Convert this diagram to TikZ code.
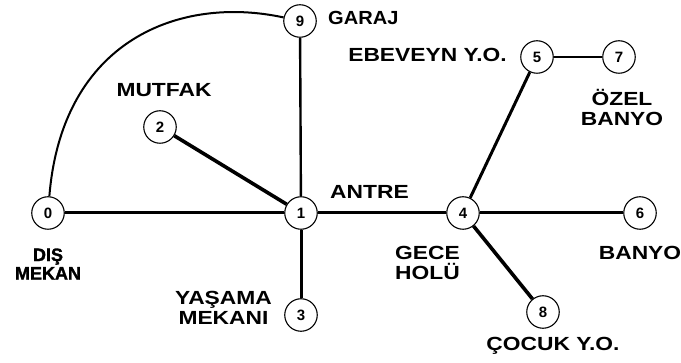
\documentclass[tikz,border=0pt]{standalone}
\usepackage{fontspec}
\setmainfont{Liberation Sans}
\newfontfamily\lblfont{Liberation Sans}[FakeStretch=1.2]
\newfontfamily\heavyfont{Liberation Sans}[FakeBold=1.6]
\newfontfamily\numfont{Liberation Sans}
\tikzset{
  room/.style={circle, draw, line width=1.1pt, minimum size=32.5pt, inner sep=0pt,
    fill=white, font=\numfont\bfseries\fontsize{15}{15}\selectfont},
  lbl/.style={font=\lblfont\bfseries\fontsize{19}{20}\selectfont, align=center, inner sep=0pt},
  heavylbl/.style={font=\heavyfont\bfseries\fontsize{18}{18.5}\selectfont, align=center, inner sep=0pt},
  link/.style={line width=3pt},
  thicklink/.style={line width=3.6pt},
  thinlink/.style={line width=2.4pt},
}
\begin{document}
\begin{tikzpicture}[x=1pt,y=-1pt]
\useasboundingbox[fill=white] (0,0) rectangle (681,363);

% room nodes
\node[room] (n0) at (48,213) {0};
\node[room] (n1) at (301,213) {1};
\node[room] (n2) at (160,127) {2};
\node[room] (n3) at (301,315) {3};
\node[room] (n4) at (463,213) {4};
\node[room] (n5) at (537,57) {5};
\node[room] (n6) at (640,213) {6};
\node[room] (n7) at (619,57) {7};
\node[room] (n8) at (543,312) {8};
\node[room] (n9) at (300,21) {9};

% connections
\draw[link] (n0) -- (n1);
\draw[thicklink] (n2) -- (n1);
\draw[thinlink] (n1) -- (n9);
\draw[link] (n1) -- (n3);
\draw[link] (n1) -- (n4);
\draw[link] (n4) -- (n6);
\draw[link] (n4) -- (n5);
\draw[thinlink] (n5) -- (n7);
\draw[thicklink] (n4) -- (n8);
\draw[line width=2pt] (n0) .. controls (62,40) and (180,-5) .. (n9);

% room names
\node[lbl, anchor=west] (tGaraj) at (328,18) {\scalebox{0.88}[1]{GARAJ}};
\node[lbl] (tEbeveyn) at (427.5,55) {EBEVEYN Y.O.};
\node[lbl] (tMutfak) at (164,90.5) {MUTFAK};
\node[lbl] (tAntre) at (369.5,192) {ANTRE};
\node[heavylbl] (tDis) at (48,264) {DIŞ\\MEKAN};
\node[lbl] (tYasama) at (223.5,308) {YAŞAMA\\MEKANI};
\node[lbl] (tGece) at (427.5,263) {GECE\\HOLÜ};
\node[lbl] (tBanyo) at (640,252.5) {BANYO};
\node[lbl] (tCocuk) at (553,346) {ÇOCUK Y.O.};
\node[lbl] (tOzel) at (622,107.5) {ÖZEL\\BANYO};
\end{tikzpicture}
\end{document}
